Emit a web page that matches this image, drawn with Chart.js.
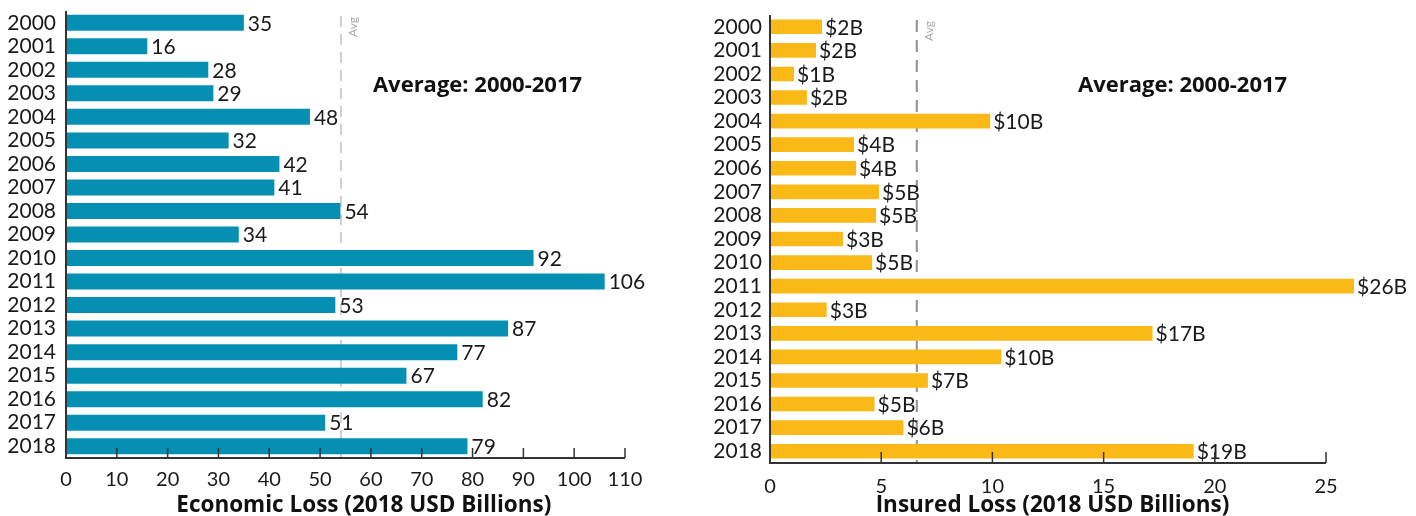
<!DOCTYPE html>
<html lang="en">
<head>
    <meta charset="UTF-8">
    <title>Economic and Insured Loss 2000-2018</title>
    <script src="https://cdn.jsdelivr.net/npm/chart.js"></script>
    <style>
        html, body { margin: 0; padding: 0; background: #fff; }
        .panel { position: absolute; top: 0; height: 516px; }
        #leftPanel { left: 0; width: 700px; }
        #rightPanel { left: 700px; width: 716px; }
    </style>
</head>
<body>
    <div id="leftPanel" class="panel"><canvas id="economicChart"></canvas></div>
    <div id="rightPanel" class="panel"><canvas id="insuredChart"></canvas></div>

    <script>
        // data
        const years = ['2000', '2001', '2002', '2003', '2004', '2005', '2006', '2007', '2008', '2009',
                       '2010', '2011', '2012', '2013', '2014', '2015', '2016', '2017', '2018'];
        const economicLoss = [35, 16, 28, 29, 48, 32, 42, 41, 54, 34, 92, 106, 53, 87, 77, 67, 82, 51, 79];
        const insuredLoss = [2.34, 2.07, 1.08, 1.66, 9.9, 3.78, 3.87, 4.9, 4.77, 3.28,
                             4.59, 26.26, 2.55, 17.2, 10.4, 7.1, 4.7, 6.0, 19.05];
        const economicAvg = 54.1;
        const insuredAvg = 6.6;
        const economicTicks = [0, 10, 20, 30, 40, 50, 60, 70, 80, 90, 100, 110];
        const insuredTicks = [0, 5, 10, 15, 20, 25];

        const FONT = 'Lato, "Open Sans", sans-serif';
        const BOLD_FONT = '"Open Sans", Lato, sans-serif';
        const TEXT = '#1a1a1a';

        // avg line, labels, axis lines, inward ticks and axis title
        const decorPlugin = {
            id: 'decor',
            beforeDatasetsDraw(chart, args, o) {
                const { ctx, chartArea } = chart;
                const x = chart.scales.x.getPixelForValue(o.avg);
                ctx.save();
                ctx.strokeStyle = o.avgColor;
                ctx.lineWidth = 2;
                ctx.setLineDash(o.dash);
                ctx.beginPath();
                ctx.moveTo(x, chartArea.top + o.avgTop);
                ctx.lineTo(x, chartArea.bottom);
                ctx.stroke();
                ctx.setLineDash([]);

                ctx.translate(x + 12, chartArea.top + o.avgTop + 11);
                ctx.rotate(-Math.PI / 2);
                ctx.fillStyle = '#a6a6a6';
                ctx.font = '12px ' + FONT;
                ctx.textAlign = 'center';
                ctx.textBaseline = 'middle';
                ctx.fillText('Avg', 0, 0);
                ctx.restore();
            },
            afterDatasetsDraw(chart, args, o) {
                const { ctx, chartArea } = chart;
                const xs = chart.scales.x;
                ctx.save();
                // value labels
                ctx.fillStyle = TEXT;
                ctx.font = '21px ' + FONT;
                ctx.textBaseline = 'middle';
                ctx.textAlign = 'left';
                const meta = chart.getDatasetMeta(0);
                meta.data.forEach((bar, i) => {
                    const v = chart.data.datasets[0].data[i];
                    ctx.fillText(o.format(v), bar.x + o.labelGap, bar.y + 1);
                });

                // axes
                ctx.strokeStyle = '#333';
                ctx.lineWidth = 2;
                ctx.beginPath();
                ctx.moveTo(chartArea.left, chartArea.top);
                ctx.lineTo(chartArea.left, chartArea.bottom);
                ctx.lineTo(xs.getPixelForValue(o.tickMax), chartArea.bottom);
                ctx.stroke();
                ctx.lineWidth = 1.5;
                o.ticks.forEach(t => {
                    if (t === 0) return;
                    const tx = xs.getPixelForValue(t);
                    ctx.beginPath();
                    ctx.moveTo(tx, chartArea.bottom);
                    ctx.lineTo(tx, chartArea.bottom - o.tickLen);
                    ctx.stroke();
                });

                // note
                ctx.font = 'bold 22px ' + BOLD_FONT;
                ctx.fillStyle = '#111';
                ctx.fillText('Average: 2000-2017', xs.getPixelForValue(o.noteAt), chartArea.top + o.noteY);

                // axis title
                ctx.font = 'bold 22.5px ' + BOLD_FONT;
                ctx.textAlign = 'center';
                ctx.fillText(o.title, xs.getPixelForValue(o.titleAt), chart.height - 10);
                ctx.restore();
            }
        };

        function makeChart(id, values, color, cfg) {
            return new Chart(document.getElementById(id), {
                type: 'bar',
                data: {
                    labels: years,
                    datasets: [{
                        data: values,
                        backgroundColor: color,
                        borderWidth: 0,
                        categoryPercentage: 1,
                        barPercentage: cfg.barPct
                    }]
                },
                options: {
                    indexAxis: 'y',
                    responsive: true,
                    maintainAspectRatio: false,
                    animation: false,
                    layout: { padding: { top: cfg.top, right: cfg.right, bottom: 0, left: 0 } },
                    scales: {
                        x: {
                            type: 'linear',
                            min: 0,
                            max: cfg.max,
                            afterBuildTicks: s => { s.ticks = cfg.ticks.map(v => ({ value: v })); },
                            afterFit: s => { s.height = cfg.xHeight; },
                            grid: { display: false, drawTicks: false },
                            border: { display: false },
                            ticks: {
                                color: TEXT,
                                font: { family: FONT, size: 20 },
                                padding: cfg.tickPad,
                                maxRotation: 0
                            }
                        },
                        y: {
                            afterFit: s => {
                                s.width = cfg.yWidth;
                                s.paddingTop = 0;
                                s.paddingBottom = 0;
                            },
                            grid: { display: false, drawTicks: false },
                            border: { display: false },
                            ticks: {
                                color: TEXT,
                                font: { family: FONT, size: 21 },
                                padding: cfg.yPad,
                                autoSkip: false
                            }
                        }
                    },
                    plugins: {
                        legend: { display: false },
                        tooltip: { enabled: false },
                        decor: {
                            avg: cfg.avg,
                            avgColor: cfg.avgColor,
                            dash: cfg.dash,
                            avgTop: cfg.avgTop,
                            ticks: cfg.ticks,
                            tickMax: cfg.ticks[cfg.ticks.length - 1],
                            tickLen: cfg.tickLen,
                            format: cfg.format,
                            labelGap: cfg.labelGap,
                            noteAt: cfg.noteAt,
                            noteY: cfg.noteY,
                            title: cfg.title,
                            titleAt: cfg.titleAt
                        }
                    }
                },
                plugins: [decorPlugin]
            });
        }

        makeChart('economicChart', economicLoss, '#0590b3', {
            max: 110, ticks: economicTicks, top: 11, right: 75, xHeight: 58, yWidth: 66, yPad: 10,
            tickPad: 10, tickLen: 10, barPct: 0.68,
            title: 'Economic Loss (2018 USD Billions)', titleAt: 58.6,
            avg: economicAvg, avgColor: '#cfcfcf', dash: [11, 7], avgTop: 5,
            format: v => String(v), labelGap: 4,
            noteAt: 60.4, noteY: 75
        });

        makeChart('insuredChart', insuredLoss, '#fbb917', {
            max: 27, ticks: insuredTicks, top: 15, right: 45.5, xHeight: 53, yWidth: 70, yPad: 8,
            tickPad: 12, tickLen: 11, barPct: 0.62,
            title: 'Insured Loss (2018 USD Billions)', titleAt: 12.7,
            avg: insuredAvg, avgColor: '#8f8f8f', dash: [12, 8], avgTop: 5,
            format: v => '$' + Math.round(v) + 'B', labelGap: 3,
            noteAt: 13.85, noteY: 71
        });
    </script>
</body>
</html>
